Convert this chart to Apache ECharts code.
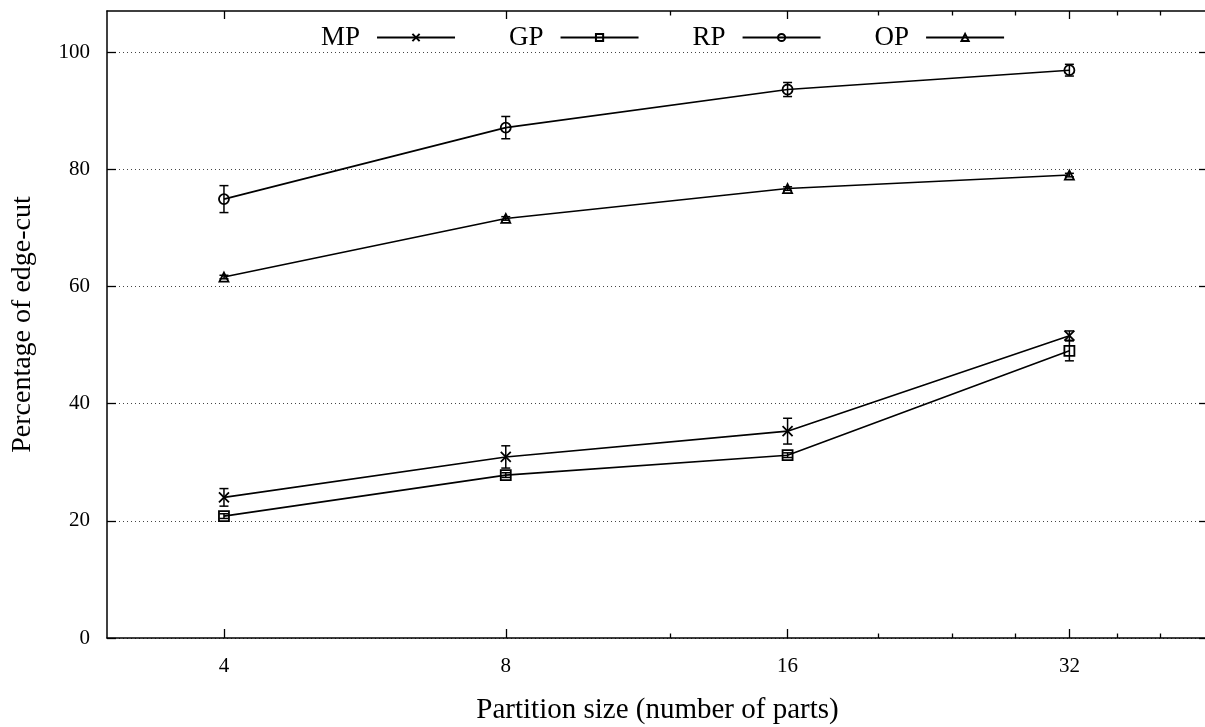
<!DOCTYPE html>
<html>
<head>
<meta charset="utf-8">
<script src="https://cdn.jsdelivr.net/npm/echarts@6/dist/echarts.min.js"></script>
<style>
html,body{margin:0;padding:0;background:#fff;overflow:hidden;}
#chart{width:1205px;height:727px;}
</style>
</head>
<body>
<div id="chart"></div>
<script>
// ---- data ----
const partitions = [4, 8, 16, 32];
const majorTicks = [4, 8, 16, 32];
const minorTicks = [12, 20, 24, 28, 36, 40];
const yTicks = [0, 20, 40, 60, 80, 100];
const mp = [24.0, 30.9, 35.3, 51.6];
const mpErr = [1.5, 1.9, 2.2, 0.8];
const gp = [20.8, 27.8, 31.2, 49.0];
const gpErr = [0.4, 0.4, 0.4, 1.7];
const rp = [74.9, 87.1, 93.6, 96.9];
const rpErr = [2.3, 1.9, 1.2, 1.0];
const op = [61.6, 71.6, 76.7, 79.0];
const opErr = [0.3, 0.3, 0.3, 0.3];
const seriesNames = ['MP', 'GP', 'RP', 'OP'];

const FONT = 'Liberation Serif';
const chart = echarts.init(document.getElementById('chart'), null, {renderer: 'canvas'});

function pairs(vals) { return partitions.map((p, i) => [p, vals[i]]); }
function errData(vals, errs) { return partitions.map((p, i) => [p, vals[i], vals[i] - errs[i], vals[i] + errs[i]]); }

function errorSeries(vals, errs) {
  return {
    type: 'custom',
    xAxisIndex: 0, yAxisIndex: 0,
    silent: true,
    z: 3,
    encode: {x: 0, y: [1, 2, 3]},
    data: errData(vals, errs),
    renderItem: function (params, api) {
      const x = api.value(0);
      const lo = api.coord([x, api.value(2)]);
      const hi = api.coord([x, api.value(3)]);
      const w = 4.5;
      const st = {stroke: '#000', lineWidth: 1.5};
      return {
        type: 'group',
        children: [
          {type: 'line', shape: {x1: lo[0], y1: lo[1], x2: hi[0], y2: hi[1]}, style: st},
          {type: 'line', shape: {x1: lo[0] - w, y1: lo[1], x2: lo[0] + w, y2: lo[1]}, style: st},
          {type: 'line', shape: {x1: hi[0] - w, y1: hi[1], x2: hi[0] + w, y2: hi[1]}, style: st}
        ]
      };
    }
  };
}

function lineSeries(name, vals, symbol, size) {
  return {
    name: name,
    type: 'line',
    xAxisIndex: 0, yAxisIndex: 0,
    data: pairs(vals),
    symbol: symbol,
    symbolSize: size,
    showAllSymbol: true,
    z: 4,
    lineStyle: {color: '#000', width: 1.6},
    itemStyle: {color: 'rgba(0,0,0,0)', borderColor: '#000', borderWidth: 1.8},
    emphasis: {disabled: true}
  };
}

const borderLine = {show: true, lineStyle: {color: '#000', width: 1.5}};
const logAxisBase = {
  type: 'log', logBase: 2, min: 3, max: 45, gridIndex: 0,
  axisLine: {show: false}, splitLine: {show: false}
};

const option = {
  animation: false,
  backgroundColor: '#fff',
  textStyle: {fontFamily: FONT, color: '#000'},
  grid: {left: 107, top: 11, width: 1101, bottom: 89, outerBoundsMode: 'none', show: false},
  legend: {
    data: seriesNames,
    left: 316, top: 19,
    align: 'right',
    itemWidth: 78, itemHeight: 9,
    itemGap: 53,
    selectedMode: false,
    textStyle: {fontFamily: FONT, fontSize: 27, color: '#000', width: 44, align: 'right', padding: [0, 12, 0, 0]}
  },
  xAxis: [
    Object.assign({}, logAxisBase, {
      position: 'bottom',
      axisLine: borderLine,
      name: 'Partition size (number of parts)',
      nameLocation: 'middle', nameGap: 58,
      nameTextStyle: {fontFamily: FONT, fontSize: 29, color: '#000'},
      axisTick: {inside: true, length: 9, lineStyle: {color: '#000', width: 1.3}, customValues: majorTicks},
      axisLabel: {fontFamily: FONT, fontSize: 21, color: '#000', margin: 18, customValues: majorTicks}
    }),
    Object.assign({}, logAxisBase, {
      position: 'bottom',
      axisTick: {inside: true, length: 4.5, lineStyle: {color: '#000', width: 1.3}, customValues: minorTicks},
      axisLabel: {show: false}
    }),
    Object.assign({}, logAxisBase, {
      position: 'top',
      axisLine: borderLine,
      axisTick: {inside: true, length: 8, lineStyle: {color: '#000', width: 1.3}, customValues: majorTicks},
      axisLabel: {show: false}
    }),
    Object.assign({}, logAxisBase, {
      position: 'top',
      axisTick: {inside: true, length: 4.5, lineStyle: {color: '#000', width: 1.3}, customValues: minorTicks},
      axisLabel: {show: false}
    })
  ],
  yAxis: [
    {
      type: 'value', min: 0, max: 107, gridIndex: 0, position: 'left',
      name: 'Percentage of edge-cut',
      nameLocation: 'middle', nameGap: 70, nameRotate: 90,
      nameTextStyle: {fontFamily: FONT, fontSize: 28, color: '#000'},
      axisLine: borderLine,
      axisTick: {inside: true, length: 9, lineStyle: {color: '#000', width: 1.3}, customValues: yTicks},
      axisLabel: {fontFamily: FONT, fontSize: 21, color: '#000', margin: 17, customValues: yTicks},
      splitLine: {show: true, lineStyle: {color: '#444', width: 1, type: [1, 3]}},
      interval: 20
    },
    {
      type: 'value', min: 0, max: 107, gridIndex: 0, position: 'right',
      axisLine: {show: false},
      axisTick: {inside: true, length: 9, lineStyle: {color: '#000', width: 1.3}, customValues: yTicks},
      axisLabel: {show: false},
      splitLine: {show: false},
      interval: 20
    }
  ],
  series: [
    errorSeries(mp, mpErr),
    errorSeries(gp, gpErr),
    errorSeries(rp, rpErr),
    errorSeries(op, opErr),
    lineSeries('MP', mp, 'path://M0,0L10,10M10,0L0,10', 10),
    lineSeries('GP', gp, 'rect', 10),
    lineSeries('RP', rp, 'circle', 10),
    lineSeries('OP', op, 'triangle', 9)
  ]
};
chart.setOption(option);
</script>
</body>
</html>
